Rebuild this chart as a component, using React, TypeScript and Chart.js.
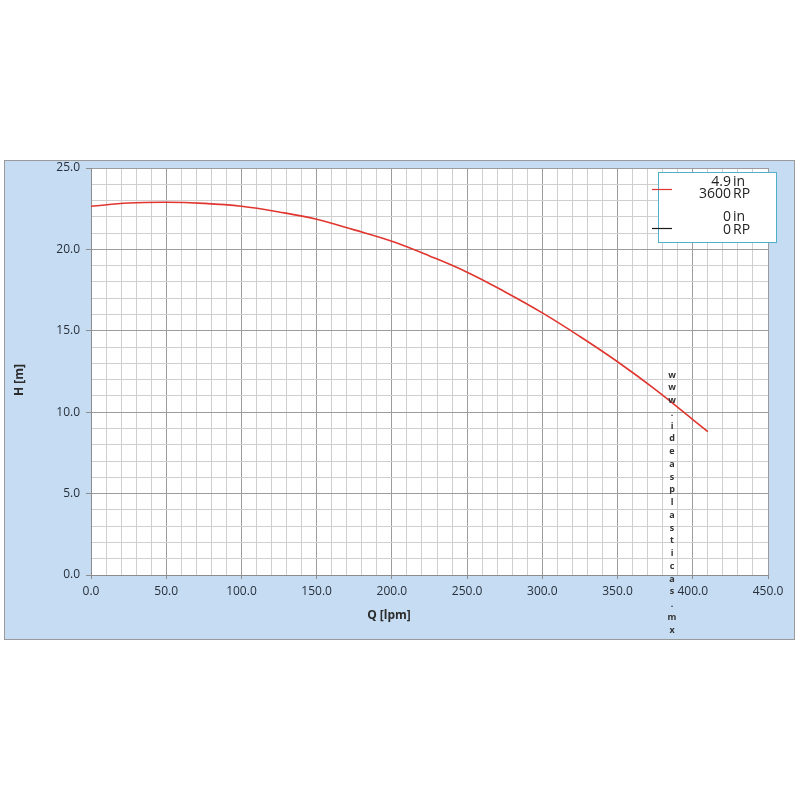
import React, { useEffect, useRef } from "react";
import { Chart, registerables } from "chart.js";

Chart.register(...registerables);

// ---- data ----
const flowLpm = [0, 25, 50, 75, 100, 125, 150, 175, 200, 225, 250, 275, 300, 325, 350, 375, 400, 410];
const headM = [22.65, 22.85, 22.9, 22.83, 22.65, 22.3, 21.85, 21.2, 20.5, 19.6, 18.6, 17.4, 16.1, 14.65, 13.1, 11.4, 9.55, 8.8];
const seriesDiameter = ["4.9", "0"];
const seriesDiameterUnit = ["in", "in"];
const seriesSpeed = ["3600", "0"];
const seriesSpeedUnit = ["RP", "RP"];
const seriesColors = ["#E0362F", "#1A1A1A"];
const xTitle = "Q [lpm]";
const yTitle = "H [m]";
const watermark = "www.ideasplasticas.mx";

const FONT = "'Open Sans', 'DejaVu Sans', sans-serif";

const panelPlugin = {
  id: "panelPlugin",
  beforeDraw(chart: any) {
    const { ctx, chartArea } = chart;
    ctx.save();
    ctx.fillStyle = "#C6DCF2";
    ctx.fillRect(4, 160, 791, 480);
    ctx.strokeStyle = "#9A9A9A";
    ctx.lineWidth = 1;
    ctx.strokeRect(4.5, 160.5, 790, 479);
    ctx.fillStyle = "#FFFFFF";
    ctx.fillRect(chartArea.left, chartArea.top, chartArea.right - chartArea.left, chartArea.bottom - chartArea.top);
    ctx.restore();
  },
  afterDraw(chart: any) {
    const { ctx } = chart;
    ctx.save();
    // axis titles
    ctx.fillStyle = "#2B2B2B";
    ctx.font = `bold 12px ${FONT}`;
    ctx.textAlign = "center";
    ctx.textBaseline = "middle";
    ctx.fillText(xTitle, 389, 616);
    ctx.save();
    ctx.translate(20, 380);
    ctx.rotate(-Math.PI / 2);
    ctx.fillText(yTitle, 0, 0);
    ctx.restore();

    // legend
    ctx.fillStyle = "#FFFFFF";
    ctx.fillRect(658, 172, 119, 71);
    ctx.strokeStyle = "#4FB0C6";
    ctx.lineWidth = 1;
    ctx.strokeRect(658.5, 172.5, 118, 70);
    const rows = [
      { lineY: 189, y1: 182, y2: 194 },
      { lineY: 228, y1: 217, y2: 230 },
    ];
    ctx.font = `14px ${FONT}`;
    ctx.textBaseline = "middle";
    rows.forEach((r, i) => {
      ctx.strokeStyle = seriesColors[i];
      ctx.lineWidth = 1.2;
      ctx.beginPath();
      ctx.moveTo(652, r.lineY + 0.5);
      ctx.lineTo(672, r.lineY + 0.5);
      ctx.stroke();
      ctx.fillStyle = "#222222";
      ctx.textAlign = "right";
      ctx.fillText(seriesDiameter[i], 731, r.y1);
      ctx.fillText(seriesSpeed[i], 731, r.y2);
      ctx.textAlign = "left";
      ctx.fillText(seriesDiameterUnit[i], 733, r.y1);
      ctx.fillText(seriesSpeedUnit[i], 733, r.y2);
    });

    // watermark (stacked letters)
    ctx.fillStyle = "#333333";
    ctx.font = `bold 9px ${FONT}`;
    ctx.textAlign = "center";
    ctx.textBaseline = "middle";
    const chars = watermark.split("");
    chars.forEach((c, i) => {
      ctx.fillText(c, 672, 375 + i * 12.75);
    });
    ctx.restore();
  },
};

export default function App() {
  const ref = useRef<HTMLCanvasElement | null>(null);

  useEffect(() => {
    if (!ref.current) return;
    const points = flowLpm.map((q, i) => ({ x: q, y: headM[i] }));
    const chart = new Chart(ref.current, {
      type: "line",
      data: {
        datasets: [
          {
            label: `${seriesDiameter[0]} in ${seriesSpeed[0]} RP`,
            data: points,
            borderColor: seriesColors[0],
            borderWidth: 1.6,
            pointRadius: 0,
            tension: 0.4,
            fill: false,
          },
          {
            label: `${seriesDiameter[1]} in ${seriesSpeed[1]} RP`,
            data: [],
            borderColor: seriesColors[1],
            borderWidth: 1,
            pointRadius: 0,
          },
        ],
      },
      options: {
        animation: false,
        responsive: false,
        devicePixelRatio: 1,
        layout: { padding: { left: 4, right: 32, top: 168, bottom: 175 } },
        plugins: { legend: { display: false }, tooltip: { enabled: false }, title: { display: false } },
        scales: {
          x: {
            type: "linear",
            min: 0,
            max: 450,
            afterFit(scale: any) {
              scale.height = 50;
            },
            border: { display: true, color: "#8C8C8C" },
            grid: {
              color: (c: any) => (c.tick && c.tick.value % 50 === 0 ? "#9C9C9C" : "#CFCFCF"),
              tickColor: (c: any) => (c.tick && c.tick.value % 50 === 0 ? "#8C8C8C" : "rgba(0,0,0,0)"),
              tickLength: 4,
              lineWidth: 1,
            },
            ticks: {
              stepSize: 10,
              autoSkip: false,
              maxRotation: 0,
              padding: 5,
              color: "#27303B",
              font: { family: FONT, size: 12 },
              callback: (v: any) => (Number(v) % 50 === 0 ? Number(v).toFixed(1) : ""),
            },
          },
          y: {
            type: "linear",
            min: 0,
            max: 25,
            afterFit(scale: any) {
              scale.width = 87;
            },
            border: { display: true, color: "#8C8C8C" },
            grid: {
              color: (c: any) => (c.tick && c.tick.value % 5 === 0 ? "#9C9C9C" : "#CFCFCF"),
              tickColor: (c: any) => (c.tick && c.tick.value % 5 === 0 ? "#8C8C8C" : "rgba(0,0,0,0)"),
              tickLength: 5,
              lineWidth: 1,
            },
            ticks: {
              stepSize: 1,
              autoSkip: false,
              padding: 6,
              color: "#27303B",
              font: { family: FONT, size: 12 },
              callback: (v: any) => (Number(v) % 5 === 0 ? Number(v).toFixed(1) : ""),
            },
          },
        },
      },
      plugins: [panelPlugin],
    } as any);
    return () => chart.destroy();
  }, []);

  return (
    <div style={{ position: "absolute", left: 0, top: 0, width: 800, height: 800, background: "#FFFFFF" }}>
      <canvas ref={ref} width={800} height={800} style={{ width: 800, height: 800, display: "block" }} />
    </div>
  );
}
